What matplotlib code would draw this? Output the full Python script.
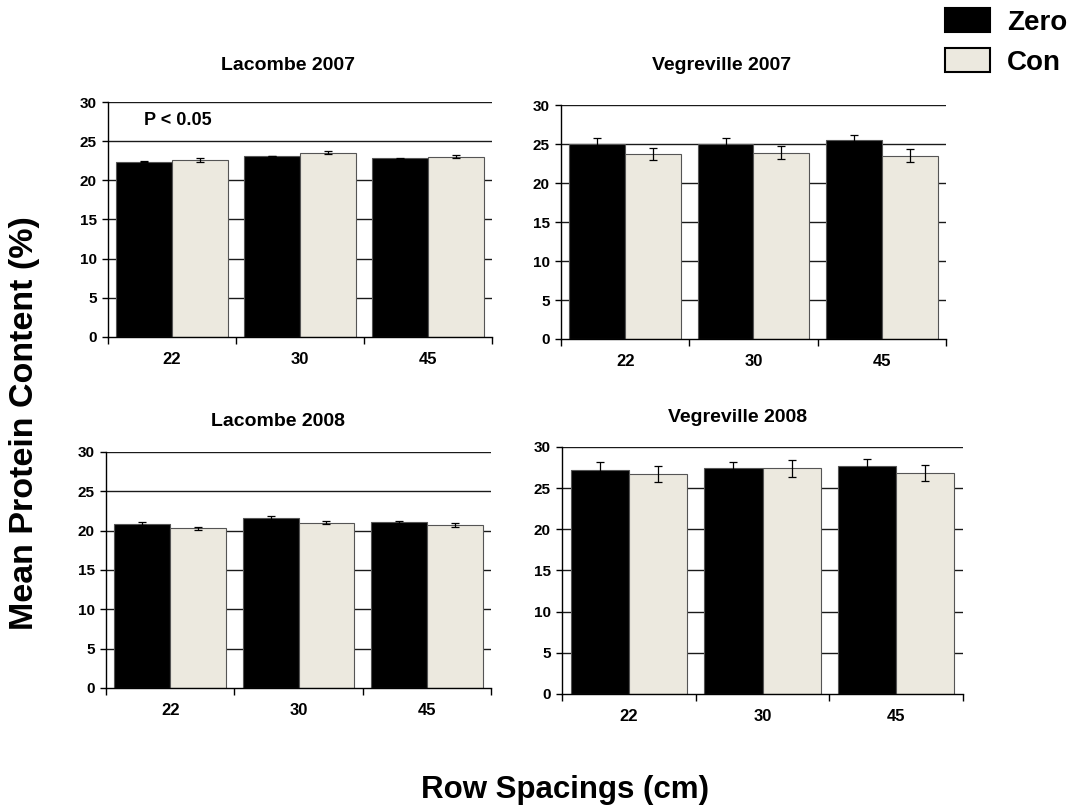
import matplotlib.pyplot as plt
import numpy as np
from matplotlib.patches import Rectangle

plt.rcParams['font.family'] = ['Liberation Sans', 'DejaVu Sans']
plt.rcParams['font.weight'] = 'bold'

spacings = ['22', '30', '45']
series = ['Zero', 'Con']
colors = ['#000000', '#ECE9DF']

titles = ['Lacombe 2007', 'Vegreville 2007', 'Lacombe 2008', 'Vegreville 2008']

zero_means = [
    [22.4, 23.1, 22.8],
    [25.0, 25.0, 25.5],
    [20.9, 21.6, 21.05],
    [27.25, 27.4, 27.65],
]
zero_err = [
    [0.05, 0.05, 0.05],
    [0.75, 0.75, 0.65],
    [0.2, 0.2, 0.2],
    [0.9, 0.8, 0.9],
]
con_means = [
    [22.6, 23.55, 23.0],
    [23.75, 23.9, 23.5],
    [20.3, 21.0, 20.7],
    [26.7, 27.4, 26.85],
]
con_err = [
    [0.2, 0.2, 0.2],
    [0.8, 0.8, 0.8],
    [0.2, 0.2, 0.25],
    [1.0, 1.0, 0.95],
]

# axes rectangles in figure fractions
panel_rects = [
    [0.1007, 0.5845, 0.3578, 0.2897],
    [0.5228, 0.5820, 0.3588, 0.2885],
    [0.0988, 0.1517, 0.3588, 0.2910],
    [0.5238, 0.1443, 0.3737, 0.3046],
]
title_pos = [(288, 66), (722, 66), (278, 421), (738, 418)]

W, H = 1073, 811
fig = plt.figure(figsize=(W / 100, H / 100), dpi=100)

x = np.arange(len(spacings))
bw = 0.435

for i, rect in enumerate(panel_rects):
    ax = fig.add_axes(rect)
    ax.set_xlim(-0.5, 2.5)
    ax.set_ylim(0, 30)
    ax.set_yticks(range(0, 31, 5))
    for y in range(5, 31, 5):
        ax.axhline(y, color='#1a1a1a', lw=1.0, zorder=0)
    ax.bar(x - bw / 2, zero_means[i], bw, color=colors[0], edgecolor='#555555',
           lw=0.8, zorder=2)
    ax.bar(x + bw / 2, con_means[i], bw, color=colors[1], edgecolor='#555555',
           lw=0.8, zorder=2)
    ax.errorbar(x - bw / 2, zero_means[i], yerr=zero_err[i], fmt='none',
                ecolor='black', elinewidth=0.9, capsize=3, capthick=0.9, zorder=3)
    ax.errorbar(x + bw / 2, con_means[i], yerr=con_err[i], fmt='none',
                ecolor='black', elinewidth=0.9, capsize=3, capthick=0.9, zorder=3)

    ax.spines['top'].set_visible(False)
    ax.spines['right'].set_visible(False)
    ax.spines['left'].set_linewidth(1.0)
    ax.spines['bottom'].set_linewidth(1.0)

    # category boundaries carry the tick marks, labels sit at group centres
    ax.set_xticks([-0.5, 0.5, 1.5, 2.5])
    ax.set_xticklabels([])
    ax.set_xticks(x, minor=True)
    ax.set_xticklabels(spacings, minor=True)
    ax.tick_params(axis='x', which='major', length=5, width=1, direction='out')
    ax.tick_params(axis='x', which='minor', length=0, pad=11, labelsize=12)
    ax.tick_params(axis='y', length=4, width=1, direction='out', labelsize=11, pad=4)
    for lab in ax.get_xticklabels(minor=True) + ax.get_yticklabels():
        lab.set_fontweight('bold')

    if i == 0:
        ax.text(-0.22, 27.6, 'P < 0.05', fontsize=13, fontweight='bold', ha='left', va='center')

    tx, ty = title_pos[i]
    fig.text(tx / W, 1 - ty / H, titles[i], fontsize=14, fontweight='bold',
             ha='center', va='center')

fig.text(25 / W, 1 - 423 / H, 'Mean Protein Content (%)', rotation=90, fontsize=24.5,
         fontweight='bold', ha='center', va='center')
fig.text(565 / W, 1 - 790 / H, 'Row Spacings (cm)', fontsize=22.5, fontweight='bold',
         ha='center', va='center')

# legend swatches
for j, (name, c) in enumerate(zip(series, colors)):
    y0 = 8 + j * 40
    fig.patches.append(Rectangle((945 / W, 1 - (y0 + 24) / H), 45 / W, 24 / H,
                                 facecolor=c, edgecolor='black', lw=1.5,
                                 transform=fig.transFigure, figure=fig))
    fig.text(1007 / W, 1 - (y0 + 15) / H, name, fontsize=20, fontweight='bold',
             ha='left', va='center')

fig.savefig('out.png', dpi=100)
